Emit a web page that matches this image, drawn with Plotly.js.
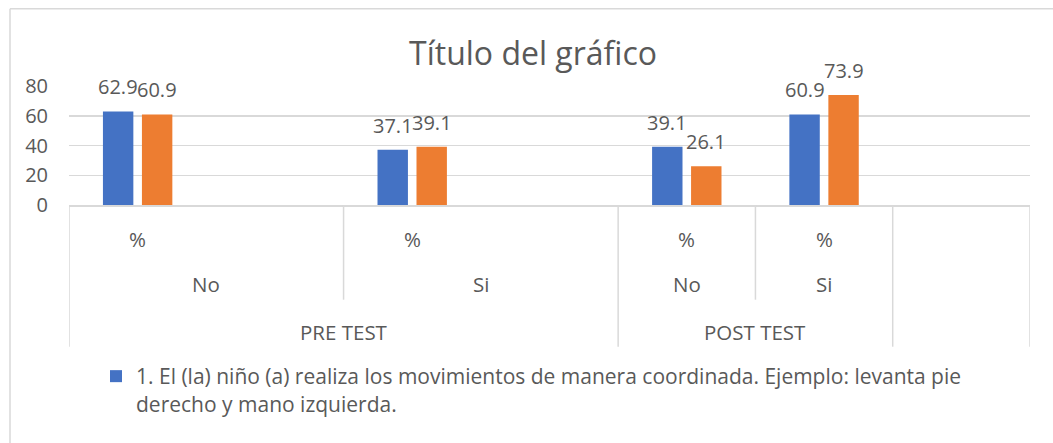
<!DOCTYPE html>
<html>
<head>
<meta charset="utf-8">
<script src="https://cdn.plot.ly/plotly-3.0.1.min.js"></script>
<style>
  html, body { margin: 0; padding: 0; background: #ffffff; }
  #chart { width: 1053px; height: 443px; }
</style>
</head>
<body>
<div id="chart"></div>
<script>
// ---- Data ----
const categories = ['PRE TEST · No · %', 'PRE TEST · No', 'PRE TEST · Si · %', 'PRE TEST · Si', 'POST TEST · No · %', 'POST TEST · Si · %', '(vacío)'];
const serie1Name = '1. El (la) niño (a) realiza los movimientos de manera coordinada. Ejemplo: levanta pie<br>derecho y mano izquierda.';
const serie1 = [62.9, null, 37.1, null, 39.1, 60.9, null];
const serie2Name = 'Serie 2';
const serie2 = [60.9, null, 39.1, null, 26.1, 73.9, null];

// multi-level category axis labels
const unitLabels = ['%', '', '%', '', '%', '%', ''];
const answerLabels = ['No', 'Si', 'No', 'Si'];
const answerSpans = [[0, 1], [2, 3], [4, 4], [5, 5]];
const phaseLabels = ['PRE TEST', 'POST TEST', ''];
const phaseSpans = [[0, 3], [4, 5], [6, 6]];
const yTicks = [0, 20, 40, 60, 80];

// ---- Layout constants ----
const W = 1053, H = 443;
const M = { l: 69, r: 23, t: 86.3, b: 237.7, autoexpand: false };
const plotW = W - M.l - M.r, plotH = H - M.t - M.b;
const bargap = 0.432;
const catPx = plotW / categories.length;
const halfSlot = catPx * (1 - bargap) / 4;
const FONT = '"Open Sans", "Noto Sans", sans-serif';
const TXT = '#595959';
const GRID = '#d9d9d9';
const py = p => (M.t + plotH - p) / plotH;   // pixel y -> paper y
const pxp = p => (p - M.l) / plotW;          // pixel x -> paper x

const traces = [
  { type: 'bar', x: categories, y: serie1, name: serie1Name, marker: { color: '#4472C4' }, hoverinfo: 'y' },
  { type: 'bar', x: categories, y: serie2, name: serie2Name, marker: { color: '#ED7D31' }, showlegend: false, hoverinfo: 'y' }
];

const annotations = [];
// data labels
[serie1, serie2].forEach((arr, s) => {
  arr.forEach((v, i) => {
    if (v === null) return;
    annotations.push({
      x: categories[i], y: v, xref: 'x', yref: 'y', text: v.toFixed(1), showarrow: false,
      yanchor: 'bottom', xanchor: 'center', xshift: (s === 0 ? -1 : 1) * halfSlot, yshift: 9,
      font: { family: FONT, size: 20, color: TXT }
    });
  });
});
const axisFont = { family: FONT, size: 20.5, color: TXT };
// axis level 3
unitLabels.forEach((t, i) => {
  if (!t) return;
  annotations.push({ x: i, y: py(239), xref: 'x', yref: 'paper', text: t, showarrow: false,
    xanchor: 'center', yanchor: 'middle', font: axisFont });
});
// axis level 2
answerLabels.forEach((t, k) => {
  annotations.push({ x: (answerSpans[k][0] + answerSpans[k][1]) / 2, y: py(284), xref: 'x', yref: 'paper', text: t, showarrow: false,
    xanchor: 'center', yanchor: 'middle', font: axisFont });
});
// axis level 1
phaseLabels.forEach((t, k) => {
  if (!t) return;
  annotations.push({ x: (phaseSpans[k][0] + phaseSpans[k][1]) / 2, y: py(332), xref: 'x', yref: 'paper', text: t, showarrow: false,
    xanchor: 'center', yanchor: 'middle', font: axisFont });
});

const shapes = [];
// vertical divider lines of the category table
for (let b = -0.5; b <= categories.length - 0.5; b += 1) {
  const isPhase = phaseSpans.some(sp => sp[0] - 0.5 === b || sp[1] + 0.5 === b);
  const isAnswer = answerSpans.some(sp => sp[0] - 0.5 === b || sp[1] + 0.5 === b);
  let bottom = null;
  if (isPhase) bottom = py(347);
  else if (isAnswer) bottom = py(300);
  if (bottom === null) continue;
  shapes.push({ type: 'line', xref: 'x', yref: 'paper', x0: b, x1: b, y0: 0, y1: bottom,
    line: { color: GRID, width: 1.5 } });
}
// chart area border (top and left)
shapes.push({ type: 'line', xref: 'paper', yref: 'paper', x0: pxp(10), x1: pxp(1060), y0: py(9), y1: py(9), line: { color: GRID, width: 1.5 } });
shapes.push({ type: 'line', xref: 'paper', yref: 'paper', x0: pxp(10), x1: pxp(10), y0: py(9), y1: py(450), line: { color: GRID, width: 1.5 } });

const layout = {
  width: W, height: H,
  margin: M,
  paper_bgcolor: '#ffffff', plot_bgcolor: '#ffffff',
  font: { family: FONT, color: TXT },
  title: { text: 'Título del gráfico', font: { family: FONT, size: 32, color: TXT },
    xref: 'container', yref: 'container', x: 533 / W, y: 1 - 54 / H, xanchor: 'center', yanchor: 'middle' },
  barmode: 'group', bargap: bargap, bargroupgap: 0.22,
  xaxis: { type: 'category', showticklabels: false, ticks: '', showgrid: false, zeroline: false,
    showline: true, linecolor: GRID, linewidth: 1.5, range: [-0.5, categories.length - 0.5], fixedrange: true },
  yaxis: { range: [0, 80], tickvals: yTicks, showgrid: true, gridcolor: GRID, gridwidth: 1.5, zeroline: false,
    showline: false, ticks: '', ticklabelstandoff: 20, tickfont: { family: FONT, size: 20, color: TXT }, fixedrange: true },
  showlegend: true,
  legend: { xref: 'container', yref: 'container', x: 96 / W, y: 1 - 356 / H, xanchor: 'left', yanchor: 'top',
    valign: 'top', font: { family: FONT, size: 21, color: TXT }, bgcolor: 'rgba(0,0,0,0)' },
  annotations: annotations,
  shapes: shapes
};

Plotly.newPlot('chart', traces, layout, { displayModeBar: false, staticPlot: true });
</script>
</body>
</html>
